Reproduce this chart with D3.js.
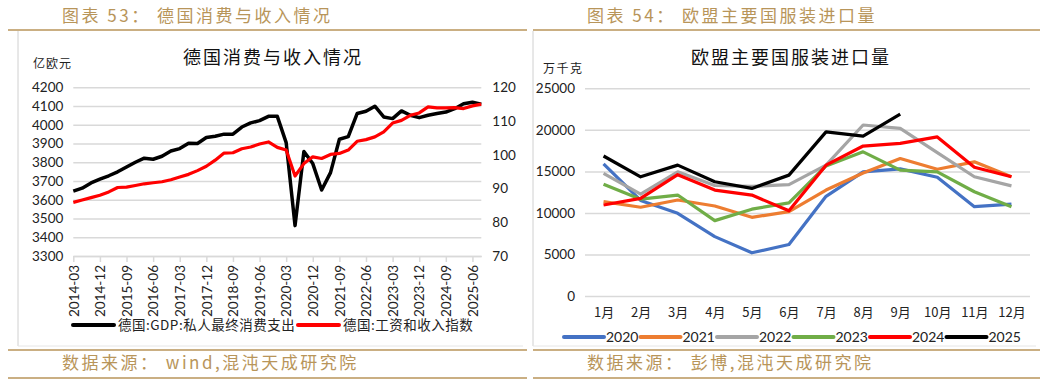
<!DOCTYPE html>
<html>
<head>
<meta charset="utf-8">
<script src="https://cdn.jsdelivr.net/npm/d3@7"></script>
<style>
  body { margin: 0; background: #fff; }
  text { font-family: Lato, "Noto Sans CJK SC", sans-serif; }
  .cjk { font-family: "Noto Sans CJK SC", sans-serif; }
</style>
</head>
<body>
<svg id="chart" width="1048" height="380"></svg>
<script>
// ---- left chart: German consumption vs income (quarterly) ----
const quarters = [];
for (let y = 2014; y <= 2025; y++) for (const m of ["03", "06", "09", "12"]) quarters.push(`${y}-${m}`);
quarters.splice(47); // 2014-03 .. 2025-09

const quarterTicks = ["2014-03", "2014-12", "2015-09", "2016-06", "2017-03", "2017-12", "2018-09", "2019-06",
  "2020-03", "2020-12", "2021-09", "2022-06", "2023-03", "2023-12", "2024-09", "2025-06"];

// 德国:GDP:私人最终消费支出 (亿欧元, left axis)
const consumption = [3646, 3662, 3690, 3710, 3728, 3749, 3775, 3800, 3822, 3816,
  3832, 3860, 3873, 3902, 3900, 3932, 3939, 3950, 3950, 3988,
  4010, 4022, 4045, 4045, 3905, 3462, 3858, 3793, 3652, 3745,
  3923, 3937, 4060, 4072, 4099, 4042, 4033, 4074, 4051, 4038,
  4051, 4060, 4068, 4086, 4112, 4120, 4110];

// 德国:工资和收入指数 (right axis)
const wageIndex = [85.9, 86.6, 87.3, 88.0, 89.0, 90.3, 90.4, 90.9, 91.4, 91.7,
  92.0, 92.6, 93.4, 94.2, 95.3, 96.6, 98.4, 100.5, 100.6, 101.8,
  102.3, 103.2, 103.8, 102.2, 101.4, 93.7, 97.4, 99.4, 98.9, 100.1,
  100.4, 101.4, 104.0, 104.5, 105.3, 106.8, 109.4, 110.2, 111.7, 112.4,
  114.2, 113.9, 113.9, 114.0, 113.7, 114.5, 115.0];

const leftTicks = [3300, 3400, 3500, 3600, 3700, 3800, 3900, 4000, 4100, 4200];
const rightTicks = [70, 80, 90, 100, 110, 120];

// ---- right chart: EU apparel imports (monthly, by year) ----
const months = ["1月", "2月", "3月", "4月", "5月", "6月", "7月", "8月", "9月", "10月", "11月", "12月"];
const years = ["2020", "2021", "2022", "2023", "2024", "2025"];
const imports2020 = [15900, 11500, 9950, 7150, 5200, 6200, 12000, 14950, 15300, 14300, 10750, 11050];
const imports2021 = [11350, 10680, 11550, 10830, 9470, 10150, 12750, 14800, 16550, 15250, 16150, 14350];
const imports2022 = [14750, 12250, 14950, 13300, 13200, 13400, 15750, 20580, 20180, 17250, 14350, 13250];
const imports2023 = [13450, 11650, 12150, 9070, 10450, 11200, 15650, 17350, 15150, 14950, 12550, 10750];
const imports2024 = [10950, 11750, 14600, 12750, 12150, 10250, 15750, 18050, 18380, 19150, 15500, 14350];
const imports2025 = [16850, 14350, 15750, 13750, 12950, 14550, 19750, 19250, 21900];
const importTicks = [0, 5000, 10000, 15000, 20000, 25000];
const yearColors = ["#4472C4", "#ED7D31", "#A5A5A5", "#70AD47", "#FF0000", "#000000"];

const gold = "#b8955a";
const grid = "#d9d9d9";
const svg = d3.select("#chart");

// ---- frame: headers, rules, footers ----
function frame(x0, x1, boxLeft, header, footer) {
  svg.append("text").attr("class", "cjk").attr("x", x0 + 54).attr("y", 22)
    .attr("fill", gold).attr("font-size", 17).attr("letter-spacing", 2.5).text(header);
  svg.append("line").attr("x1", x0).attr("x2", x1).attr("y1", 30).attr("y2", 30)
    .attr("stroke", gold).attr("stroke-width", 1.5);
  svg.append("line").attr("x1", boxLeft).attr("x2", boxLeft).attr("y1", 31).attr("y2", 346)
    .attr("stroke", "#d0d0d0");
  svg.append("line").attr("x1", boxLeft).attr("x2", x1 - 4).attr("y1", 346).attr("y2", 346)
    .attr("stroke", "#e6e6e6");
  svg.append("line").attr("x1", x0).attr("x2", x1).attr("y1", 350).attr("y2", 350)
    .attr("stroke", gold).attr("stroke-width", 1.5);
  svg.append("text").attr("class", "cjk").attr("x", x0 + 54).attr("y", 369)
    .attr("fill", gold).attr("font-size", 17).attr("letter-spacing", 2.5).text(footer);
  svg.append("line").attr("x1", x0).attr("x2", x1).attr("y1", 378).attr("y2", 378)
    .attr("stroke", gold).attr("stroke-width", 1.5);
}
frame(8, 527, 18, "图表 53： 德国消费与收入情况", "数据来源： wind,混沌天成研究院");
frame(533, 1040, 533, "图表 54： 欧盟主要国服装进口量", "数据来源： 彭博,混沌天成研究院");

function styleAxis(g) {
  g.select(".domain").remove();
  g.selectAll(".tick line").attr("stroke", grid).attr("stroke-width", 1.5);
  g.selectAll(".tick text").attr("fill", "#222").attr("font-size", 13.5);
}

// ---- left chart ----
const xQ = d3.scalePoint().domain(quarters).range([73.3, 481.3]);
const yL = d3.scaleLinear().domain([3300, 4200]).range([256, 87.3]);
const yR = d3.scaleLinear().domain([70, 120]).range([256, 87.3]);

svg.append("text").attr("class", "cjk").attr("x", 273).attr("y", 64).attr("text-anchor", "middle")
  .attr("font-size", 18).attr("letter-spacing", 2).attr("fill", "#111").text("德国消费与收入情况");
svg.append("text").attr("class", "cjk").attr("x", 33).attr("y", 68)
  .attr("font-size", 12).attr("letter-spacing", 1).attr("fill", "#222").text("亿欧元");

svg.append("g").attr("transform", "translate(73.3,0)")
  .call(d3.axisLeft(yL).tickValues(leftTicks).tickSize(-408).tickPadding(10).tickFormat(d3.format("d")))
  .call(styleAxis);
svg.append("g").attr("transform", "translate(481.3,0)")
  .call(d3.axisRight(yR).tickValues(rightTicks).tickSize(0).tickPadding(11))
  .call(styleAxis);

const xAxisL = svg.append("g").attr("transform", "translate(0,256)")
  .call(d3.axisBottom(xQ).tickValues(quarterTicks).tickSize(6).tickSizeOuter(0));
xAxisL.select(".domain").attr("stroke", grid).attr("stroke-width", 1.5);
xAxisL.selectAll(".tick line").attr("stroke", grid).attr("stroke-width", 1.5);
xAxisL.selectAll(".tick text").attr("fill", "#222").attr("font-size", 13.5)
  .attr("transform", "rotate(-90)").attr("text-anchor", "end")
  .attr("x", -9).attr("y", 0).attr("dy", "0.35em");

const lineL = d3.line().x((d, i) => xQ(quarters[i])).y(d => yL(d));
const lineR = d3.line().x((d, i) => xQ(quarters[i])).y(d => yR(d));
svg.append("path").datum(consumption).attr("d", lineL).attr("fill", "none")
  .attr("stroke", "#000").attr("stroke-width", 3.5).attr("stroke-linejoin", "round");
svg.append("path").datum(wageIndex).attr("d", lineR).attr("fill", "none")
  .attr("stroke", "#ff0000").attr("stroke-width", 3.2).attr("stroke-linejoin", "round");

const legendL = [
  { label: "德国:GDP:私人最终消费支出", color: "#000", x: 73 },
  { label: "德国:工资和收入指数", color: "#ff0000", x: 298 }
];
const lgL = svg.append("g").selectAll("g").data(legendL).join("g")
  .attr("transform", d => `translate(${d.x},325)`);
lgL.append("line").attr("x1", 0).attr("x2", 41).attr("stroke", d => d.color)
  .attr("stroke-width", 4).attr("stroke-linecap", "round");
lgL.append("text").attr("class", "cjk").attr("x", 45).attr("dy", "0.36em")
  .attr("font-size", 13.5).attr("letter-spacing", 0.5).attr("fill", "#222").text(d => d.label);

// ---- right chart ----
const xM = d3.scalePoint().domain(months).range([585, 1030]).padding(0.5);
const yI = d3.scaleLinear().domain([0, 25000]).range([296, 88.3]);

svg.append("text").attr("class", "cjk").attr("x", 791).attr("y", 64).attr("text-anchor", "middle")
  .attr("font-size", 18).attr("letter-spacing", 2).attr("fill", "#111").text("欧盟主要国服装进口量");
svg.append("text").attr("class", "cjk").attr("x", 543).attr("y", 73)
  .attr("font-size", 12).attr("letter-spacing", 1.5).attr("fill", "#222").text("万千克");

svg.append("g").attr("transform", "translate(585,0)")
  .call(d3.axisLeft(yI).tickValues(importTicks).tickSize(-445).tickPadding(10).tickFormat(d3.format("d")))
  .call(styleAxis);
svg.append("g").attr("transform", "translate(0,296)")
  .call(d3.axisBottom(xM).tickSize(0).tickPadding(12))
  .call(styleAxis)
  .selectAll(".tick text").attr("class", "cjk").attr("font-size", 13);

const importSeries = [imports2020, imports2021, imports2022, imports2023, imports2024, imports2025];
const lineM = d3.line().x((d, i) => xM(months[i])).y(d => yI(d));
svg.append("g").selectAll("path").data(importSeries).join("path")
  .attr("d", lineM).attr("fill", "none")
  .attr("stroke", (d, i) => yearColors[i]).attr("stroke-width", 3.2).attr("stroke-linejoin", "round");

const lgR = svg.append("g").selectAll("g").data(years).join("g")
  .attr("transform", (d, i) => `translate(${564 + i * 76.5},337)`);
lgR.append("line").attr("x1", 0).attr("x2", 40).attr("stroke", (d, i) => yearColors[i])
  .attr("stroke-width", 4).attr("stroke-linecap", "round");
lgR.append("text").attr("x", 42).attr("dy", "0.36em").attr("font-size", 14)
  .attr("fill", "#222").text(d => d);
</script>
</body>
</html>
